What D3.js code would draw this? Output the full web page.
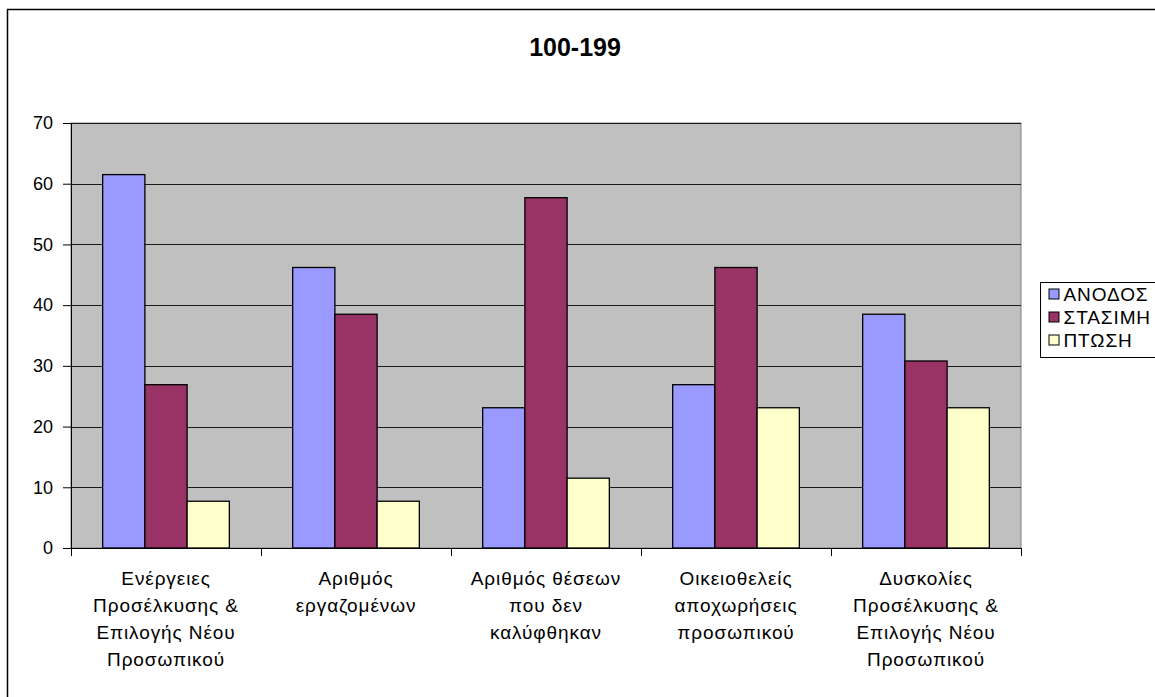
<!DOCTYPE html>
<html>
<head>
<meta charset="utf-8">
<script src="https://cdn.jsdelivr.net/npm/d3@7"></script>
<style>
  html, body { margin: 0; padding: 0; background: #fff; overflow: hidden; }
  svg { display: block; font-family: "Liberation Sans", Arial, sans-serif; }
</style>
</head>
<body>
<svg id="chart" width="1155" height="697"></svg>
<script>
const title = "100-199";
const categories = [
  "Ενέργειες\nΠροσέλκυσης &\nΕπιλογής Νέου\nΠροσωπικού",
  "Αριθμός\nεργαζομένων",
  "Αριθμός θέσεων\nπου δεν\nκαλύφθηκαν",
  "Οικειοθελείς\nαποχωρήσεις\nπροσωπικού",
  "Δυσκολίες\nΠροσέλκυσης &\nΕπιλογής Νέου\nΠροσωπικού"
];
const seriesNames = ["ΑΝΟΔΟΣ", "ΣΤΑΣΙΜΗ", "ΠΤΩΣΗ"];
const anodos  = [61.5, 46.2, 23.1, 26.9, 38.5];
const stasimi = [26.9, 38.5, 57.7, 46.2, 30.8];
const ptosi   = [7.7, 7.7, 11.5, 23.1, 23.1];
const seriesColors = ["#9999FF", "#993366", "#FFFFCC"];
const yTicks = [0, 10, 20, 30, 40, 50, 60, 70];

const seriesValues = [anodos, stasimi, ptosi];

const svg = d3.select("#chart");
const plot = { left: 71, right: 1021, top: 123, bottom: 548 };

// outer chart border
svg.append("rect")
  .attr("x", 7.5).attr("y", 9.5)
  .attr("width", 1300).attr("height", 800)
  .attr("fill", "#fff").attr("stroke", "#000").attr("stroke-width", 1.5);

// title
svg.append("text")
  .attr("x", 575).attr("y", 56)
  .attr("text-anchor", "middle")
  .attr("font-size", 25).attr("font-weight", "bold")
  .text(title);

const x0 = d3.scaleBand().domain(d3.range(categories.length)).range([plot.left, plot.right]).padding(0);
const bw = x0.bandwidth();
const barW = bw / (seriesNames.length + 1.5);
const x1 = d3.scaleBand().domain(seriesNames).range([barW * 0.75, bw - barW * 0.75]).padding(0);
const y = d3.scaleLinear().domain([0, 70]).range([plot.bottom, plot.top]);

// plot background
svg.append("rect")
  .attr("x", plot.left).attr("y", plot.top)
  .attr("width", plot.right - plot.left).attr("height", plot.bottom - plot.top)
  .attr("fill", "#C0C0C0").attr("stroke", "#808080").attr("stroke-width", 1);

// gridlines
svg.append("g").selectAll("line").data(yTicks.filter(d => d > 0)).join("line")
  .attr("x1", plot.left).attr("x2", plot.right)
  .attr("y1", d => Math.round(y(d)) + 0.5).attr("y2", d => Math.round(y(d)) + 0.5)
  .attr("stroke", "#1a1a1a").attr("stroke-width", 1);

// bars
const groups = svg.append("g").selectAll("g").data(categories).join("g")
  .attr("transform", (d, i) => `translate(${x0(i)},0)`);
groups.selectAll("rect")
  .data((d, i) => seriesNames.map((s, k) => ({ s, k, v: seriesValues[k][i] })))
  .join("rect")
  .attr("x", d => x1(d.s))
  .attr("y", d => y(d.v))
  .attr("width", x1.bandwidth())
  .attr("height", d => y(0) - y(d.v))
  .attr("fill", d => seriesColors[d.k])
  .attr("stroke", "#000").attr("stroke-width", 1.3);

// y axis
const yAxis = d3.axisLeft(y).tickValues(yTicks).tickSize(8).tickPadding(10);
const gy = svg.append("g").attr("transform", `translate(${plot.left},0)`).call(yAxis);
gy.select(".domain").attr("stroke", "#000");
gy.selectAll(".tick line").attr("stroke", "#000");
gy.selectAll(".tick text").attr("font-size", 18).attr("fill", "#000")
  .attr("font-family", "'Liberation Sans', Arial, sans-serif");

// x axis
const xb = d3.scaleLinear().domain([0, categories.length]).range([plot.left, plot.right]);
const xAxis = d3.axisBottom(xb).tickValues(d3.range(categories.length + 1)).tickSize(8).tickFormat("");
const gx = svg.append("g").attr("transform", `translate(0,${plot.bottom})`).call(xAxis);
gx.select(".domain").attr("stroke", "#000");
gx.selectAll(".tick line").attr("stroke", "#000");

// category labels
const labels = svg.append("g").selectAll("text").data(categories).join("text")
  .attr("x", (d, i) => x0(i) + bw / 2)
  .attr("y", 585)
  .attr("text-anchor", "middle")
  .attr("font-size", 19)
  .attr("letter-spacing", 0.9)
  .attr("fill", "#000");
labels.each(function(d, i) {
  const t = d3.select(this);
  d.split("\n").forEach((line, j) => {
    t.append("tspan").attr("x", x0(i) + bw / 2).attr("dy", j === 0 ? 0 : 27).text(line);
  });
});

// legend
const lg = svg.append("g").attr("transform", "translate(1040.5,282.5)");
lg.append("rect").attr("x", 0).attr("y", 0).attr("width", 200).attr("height", 75)
  .attr("fill", "#fff").attr("stroke", "#000").attr("stroke-width", 1);
const items = lg.selectAll("g.item").data(seriesNames).join("g")
  .attr("class", "item")
  .attr("transform", (d, i) => `translate(0,${11.5 + i * 23})`);
items.append("rect").attr("x", 8.5).attr("y", -5).attr("width", 10).attr("height", 10)
  .attr("fill", (d, i) => seriesColors[i]).attr("stroke", "#000").attr("stroke-width", 1);
items.append("text").attr("x", 23).attr("y", 0).attr("dy", "0.35em")
  .attr("font-size", 19).attr("letter-spacing", 0.9).attr("fill", "#000").text(d => d);
</script>
</body>
</html>
